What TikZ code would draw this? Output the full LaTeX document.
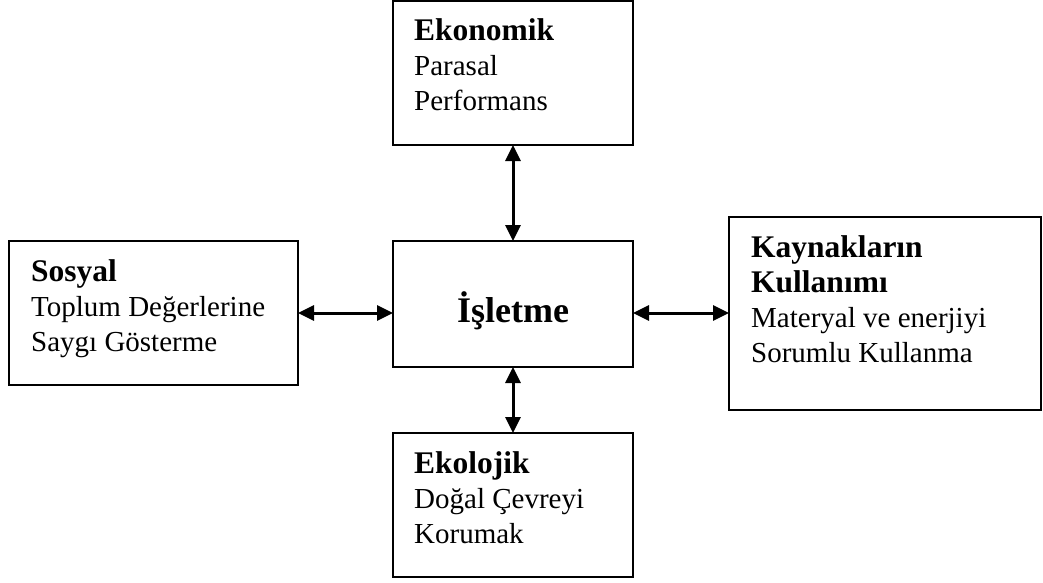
\documentclass[tikz,border=0pt]{standalone}
\usepackage{fontspec}
\setmainfont{Liberation Serif}
\usetikzlibrary{arrows.meta}
\newcommand{\hd}[1]{{\fontsize{31.5}{35}\selectfont\textbf{#1}}}
\begin{document}
\begin{tikzpicture}[x=1pt,y=1pt,
  box/.style={draw,line width=2pt,anchor=north west,inner sep=0pt,outer sep=0pt},
  txt/.style={anchor=north west,inner sep=0pt,align=left,font=\fontsize{29}{35}\selectfont},
  conn/.style={line width=3pt,{Triangle[length=16pt,width=15pt]}-{Triangle[length=16pt,width=15pt]}}]
\useasboundingbox (0,0) rectangle (1043,-583);
\node[box,minimum width=240pt,minimum height=144pt] (eko) at (393,-1) {};
\node[box,minimum width=240pt,minimum height=126pt] (isl) at (393,-241) {};
\node[box,minimum width=289pt,minimum height=144pt] (sos) at (9,-241) {};
\node[box,minimum width=312pt,minimum height=193pt] (kay) at (729,-217) {};
\node[box,minimum width=240pt,minimum height=144pt] (ekol) at (393,-433) {};
\node[txt] (ekot) at ([shift={(21,-15)}]eko.north west) {\strut\hd{Ekonomik}\\\strut Parasal\\\strut Performans};
\node[txt] (sost) at ([shift={(22,-16)}]sos.north west) {\strut\hd{Sosyal}\\\strut Toplum Değerlerine\\\strut Saygı Gösterme};
\node[txt] (kayt) at ([shift={(22,-16)}]kay.north west) {\strut\hd{Kaynakların}\\\strut\hd{Kullanımı}\\\strut Materyal ve enerjiyi\\\strut Sorumlu Kullanma};
\node[txt] (ekolt) at ([shift={(21,-16)}]ekol.north west) {\strut\hd{Ekolojik}\\\strut Doğal Çevreyi\\\strut Korumak};
\node[font=\fontsize{36}{40}\selectfont\bfseries] (islt) at ([yshift=-7]isl.center) {İşletme};
\draw[conn] (eko.south) -- (isl.north);
\draw[conn] (isl.south) -- (ekol.north);
\draw[conn] (sos.east) -- (isl.west |- sos.east);
\draw[conn] (isl.east |- sos.east) -- (kay.west |- sos.east);
\end{tikzpicture}
\end{document}
